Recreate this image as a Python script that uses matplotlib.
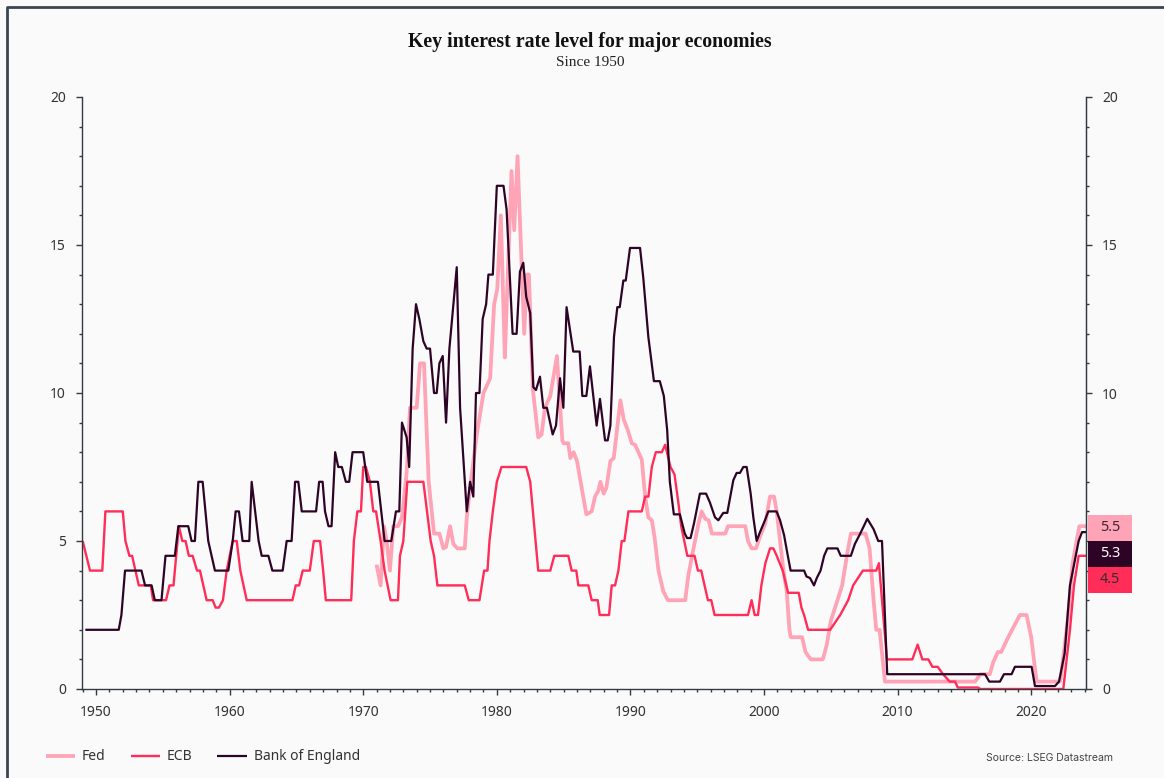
"""
Key interest rates of the Fed, ECB (Bundesbank before 1999) and Bank of England
since 1950, drawn as step-ish lines with end-value tags on the right.
"""
import matplotlib
matplotlib.use("Agg")
import matplotlib.pyplot as plt
from matplotlib.lines import Line2D
from matplotlib.patches import Rectangle
from matplotlib.ticker import MultipleLocator, FuncFormatter
import matplotlib.transforms as mtransforms

BG = "#fafafa"
INK = "#333a40"
COLORS = {"Fed": "#ffa3b6", "ECB": "#ff2d57", "Bank of England": "#2d0426"}
WIDTHS = {"Fed": 2.7, "ECB": 1.7, "Bank of England": 1.6}

# --- Fed funds target (from 1971) ---
fed_years = [1971.0, 1971.3, 1971.55, 1971.75, 1972.0, 1972.25, 1972.6, 1972.9, 1973.25, 1973.5,
             1974.0, 1974.25, 1974.55, 1974.9, 1975.3, 1975.7, 1976.0, 1976.2, 1976.5, 1976.75,
             1977.05, 1977.6, 1977.75, 1978.0, 1978.5, 1979.0, 1979.5, 1979.8, 1980.03, 1980.3,
             1980.6, 1980.7, 1981.1, 1981.3, 1981.55, 1982.05, 1982.25, 1982.4, 1982.7, 1983.1,
             1983.35, 1983.6, 1984.0, 1984.5, 1984.9, 1985.0, 1985.35, 1985.5, 1985.75, 1986.0,
             1986.35, 1986.7, 1987.1, 1987.35, 1987.6, 1987.75, 1988.0, 1988.2, 1988.5, 1988.75,
             1989.25, 1989.5, 1989.8, 1990.1, 1990.35, 1990.85, 1991.1, 1991.34, 1991.6, 1991.8,
             1992.1, 1992.46, 1992.8, 1994.1, 1994.34, 1994.7, 1995.1, 1995.33, 1995.6, 1995.85,
             1996.1, 1997.1, 1997.3, 1998.6, 1998.8, 1999.07, 1999.4, 1999.7, 2000.1, 2000.45,
             2000.75, 2000.95, 2001.2, 2001.45, 2001.7, 2001.9, 2002.0, 2002.85, 2003.1, 2003.5,
             2004.4, 2004.7, 2005.0, 2005.5, 2005.85, 2006.2, 2006.5, 2007.6, 2007.9, 2008.2,
             2008.4, 2008.65, 2009.05, 2015.8, 2016.2, 2016.9, 2017.15, 2017.5, 2017.75, 2018.3,
             2018.8, 2019.15, 2019.65, 2020.0, 2020.4, 2022.15, 2022.25, 2022.75, 2023.1, 2023.4,
             2023.6, 2024.1]
fed_rates = [4.2, 3.5, 5.5, 5.0, 4.0, 5.5, 5.5, 5.8, 7.3, 9.5,
             9.5, 11.0, 11.0, 7.0, 5.25, 5.25, 4.75, 4.8, 5.5, 4.9,
             4.75, 4.75, 5.8, 6.8, 8.6, 10.0, 10.5, 13.0, 13.5, 16.0,
             11.2, 12.5, 17.5, 15.5, 18.0, 12.0, 14.0, 14.0, 10.1, 8.5,
             8.6, 9.5, 9.9, 11.25, 8.4, 8.3, 8.3, 7.8, 8.0, 7.7,
             6.8, 5.9, 6.0, 6.5, 6.7, 7.0, 6.6, 6.8, 7.7, 7.8,
             9.75, 9.1, 8.75, 8.3, 8.25, 7.75, 6.5, 5.8, 5.7, 5.15,
             4.0, 3.3, 3.0, 3.0, 3.85, 4.7, 5.6, 6.0, 5.75, 5.7,
             5.25, 5.25, 5.5, 5.5, 5.0, 4.75, 4.75, 5.15, 5.6, 6.5,
             6.5, 6.0, 5.0, 4.0, 3.3, 2.0, 1.75, 1.75, 1.25, 1.0,
             1.0, 1.5, 2.3, 3.0, 3.5, 4.5, 5.25, 5.25, 4.75, 3.0,
             2.0, 2.0, 0.25, 0.25, 0.5, 0.5, 0.9, 1.25, 1.25, 1.77,
             2.2, 2.5, 2.5, 1.75, 0.25, 0.25, 0.5, 2.4, 4.25, 5.0,
             5.5, 5.5]

# --- ECB main refi (Bundesbank discount rate before 1999) ---
ecb_years = [1949.0, 1949.55, 1950.47, 1950.7, 1952.0, 1952.2, 1952.5, 1952.7, 1953.2, 1954.1,
             1954.27, 1955.24, 1955.5, 1955.8, 1956.2, 1956.46, 1956.7, 1956.95, 1957.23, 1957.56,
             1957.78, 1958.28, 1958.73, 1958.95, 1959.2, 1959.5, 1959.78, 1960.23, 1960.53, 1960.8,
             1961.28, 1964.7, 1964.95, 1965.2, 1965.47, 1966.0, 1966.3, 1966.77, 1967.0, 1967.2,
             1969.1, 1969.3, 1969.56, 1969.83, 1970.0, 1970.2, 1970.5, 1970.75, 1970.96, 1971.3,
             1971.6, 1972.05, 1972.6, 1972.75, 1973.0, 1973.3, 1974.5, 1975.05, 1975.3, 1975.55,
             1977.6, 1977.9, 1978.7, 1979.05, 1979.3, 1979.45, 1979.7, 1980.0, 1980.35, 1982.2,
             1982.5, 1983.1, 1984.0, 1984.3, 1985.35, 1985.6, 1985.95, 1986.1, 1986.85, 1987.1,
             1987.55, 1987.7, 1988.4, 1988.6, 1988.85, 1989.1, 1989.35, 1989.55, 1989.85, 1990.85,
             1991.1, 1991.35, 1991.6, 1991.9, 1992.35, 1992.6, 1993.0, 1993.3, 1993.6, 1993.8,
             1994.26, 1994.8, 1995.05, 1995.3, 1995.8, 1996.05, 1996.3, 1998.8, 1999.07, 1999.3,
             1999.55, 1999.8, 2000.1, 2000.45, 2000.7, 2000.95, 2001.4, 2001.8, 2002.6, 2002.8,
             2003.0, 2003.3, 2004.95, 2005.7, 2006.3, 2006.67, 2007.4, 2008.4, 2008.6, 2009.2,
             2011.1, 2011.5, 2011.85, 2012.3, 2012.6, 2013.0, 2013.4, 2013.9, 2014.3, 2014.5,
             2016.0, 2016.2, 2022.4, 2022.9, 2023.2, 2023.55, 2024.1]
ecb_rates = [5.0, 4.0, 4.0, 6.0, 6.0, 5.0, 4.5, 4.5, 3.5, 3.5,
             3.0, 3.0, 3.5, 3.5, 5.5, 5.0, 5.0, 4.5, 4.5, 4.0,
             4.0, 3.0, 3.0, 2.75, 2.75, 3.0, 4.0, 5.0, 5.0, 4.0,
             3.0, 3.0, 3.5, 3.5, 4.0, 4.0, 5.0, 5.0, 4.0, 3.0,
             3.0, 5.0, 6.0, 6.0, 7.5, 7.5, 7.0, 6.0, 6.0, 5.0,
             4.0, 3.0, 3.0, 4.5, 5.0, 7.0, 7.0, 5.0, 4.5, 3.5,
             3.5, 3.0, 3.0, 4.0, 4.0, 5.0, 6.0, 7.0, 7.5, 7.5,
             7.0, 4.0, 4.0, 4.5, 4.5, 4.0, 4.0, 3.5, 3.5, 3.0,
             3.0, 2.5, 2.5, 3.5, 3.5, 4.0, 5.0, 5.0, 6.0, 6.0,
             6.5, 6.5, 7.5, 8.0, 8.0, 8.25, 7.5, 7.25, 6.25, 5.5,
             4.5, 4.5, 4.0, 4.0, 3.0, 3.0, 2.5, 2.5, 3.0, 2.5,
             2.5, 3.5, 4.25, 4.75, 4.75, 4.5, 4.0, 3.25, 3.25, 2.75,
             2.5, 2.0, 2.0, 2.5, 3.0, 3.5, 4.0, 4.0, 4.25, 1.0,
             1.0, 1.5, 1.0, 1.0, 0.75, 0.75, 0.5, 0.25, 0.25, 0.05,
             0.05, 0.0, 0.0, 2.0, 3.5, 4.5, 4.5]

# --- Bank of England bank rate ---
boe_years = [1949.2, 1951.7, 1951.9, 1952.17, 1953.4, 1953.67, 1954.16, 1954.4, 1954.9, 1955.2,
             1955.9, 1956.16, 1956.9, 1957.15, 1957.4, 1957.66, 1957.98, 1958.4, 1958.9, 1959.9,
             1960.23, 1960.45, 1960.7, 1960.97, 1961.47, 1961.65, 1962.17, 1962.4, 1962.9, 1963.2,
             1963.97, 1964.27, 1964.64, 1964.9, 1965.14, 1965.4, 1966.47, 1966.7, 1966.96, 1967.14,
             1967.4, 1967.63, 1967.9, 1968.13, 1968.4, 1968.7, 1968.95, 1969.2, 1970.0, 1970.3,
             1971.1, 1971.6, 1972.1, 1972.45, 1972.7, 1972.9, 1973.25, 1973.44, 1973.7, 1973.95,
             1974.2, 1974.5, 1974.75, 1975.0, 1975.3, 1975.5, 1975.7, 1975.95, 1976.2, 1976.45,
             1977.0, 1977.25, 1977.75, 1978.0, 1978.24, 1978.44, 1978.7, 1978.94, 1979.2, 1979.37,
             1979.7, 1980.0, 1980.5, 1980.73, 1981.18, 1981.48, 1981.73, 1981.98, 1982.2, 1982.5,
             1982.73, 1982.93, 1983.23, 1983.48, 1983.75, 1984.18, 1984.43, 1984.73, 1984.98, 1985.22,
             1985.72, 1986.2, 1986.4, 1986.7, 1986.97, 1987.47, 1987.72, 1988.1, 1988.3, 1988.5,
             1988.77, 1989.02, 1989.2, 1989.47, 1989.65, 1989.97, 1990.72, 1990.96, 1991.34, 1991.76,
             1992.2, 1992.5, 1992.75, 1992.95, 1993.25, 1993.7, 1994.07, 1994.24, 1994.5, 1994.76,
             1995.2, 1995.66, 1995.95, 1996.33, 1996.58, 1996.95, 1997.25, 1997.7, 1997.95, 1998.2,
             1998.45, 1998.7, 1999.0, 1999.2, 1999.45, 1999.7, 2000.07, 2000.32, 2000.94, 2001.2,
             2001.5, 2001.74, 2001.99, 2003.0, 2003.18, 2003.44, 2003.74, 2003.95, 2004.23, 2004.5,
             2004.74, 2005.5, 2005.74, 2006.5, 2006.8, 2007.2, 2007.73, 2008.2, 2008.55, 2008.83,
             2009.22, 2016.54, 2016.86, 2017.66, 2017.96, 2018.53, 2018.78, 2020.03, 2020.28, 2021.78,
             2022.08, 2022.5, 2022.9, 2023.2, 2023.55, 2023.8, 2024.1]
boe_rates = [2.0, 2.0, 2.5, 4.0, 4.0, 3.5, 3.5, 3.0, 3.0, 4.5,
             4.5, 5.5, 5.5, 5.0, 5.0, 7.0, 7.0, 5.0, 4.0, 4.0,
             5.0, 6.0, 6.0, 5.0, 5.0, 7.0, 5.0, 4.5, 4.5, 4.0,
             4.0, 5.0, 5.0, 7.0, 7.0, 6.0, 6.0, 7.0, 7.0, 6.0,
             5.5, 5.5, 8.0, 7.5, 7.5, 7.0, 7.0, 8.0, 8.0, 7.0,
             7.0, 5.0, 5.0, 6.0, 6.0, 9.0, 8.5, 7.5, 11.5, 13.0,
             12.5, 11.75, 11.5, 11.5, 10.0, 10.0, 11.0, 11.25, 9.0, 11.5,
             14.25, 9.5, 6.0, 7.0, 6.5, 10.0, 10.0, 12.5, 13.0, 14.0,
             14.0, 17.0, 17.0, 16.2, 12.0, 12.0, 14.1, 14.4, 13.25, 12.7,
             10.2, 10.1, 10.55, 9.5, 9.5, 8.6, 8.9, 10.5, 9.5, 12.9,
             11.4, 11.4, 9.9, 9.9, 10.9, 8.9, 9.8, 8.4, 8.4, 8.9,
             11.9, 12.9, 12.9, 13.8, 13.8, 14.9, 14.9, 13.9, 11.9, 10.4,
             10.4, 9.9, 8.75, 7.0, 5.9, 5.9, 5.25, 5.1, 5.1, 5.6,
             6.6, 6.6, 6.3, 5.8, 5.7, 5.95, 5.95, 7.05, 7.3, 7.3,
             7.5, 7.5, 6.6, 5.8, 5.0, 5.3, 5.7, 6.0, 6.0, 5.7,
             5.2, 4.6, 4.0, 4.0, 3.8, 3.75, 3.5, 3.75, 4.0, 4.5,
             4.75, 4.75, 4.5, 4.5, 4.9, 5.25, 5.75, 5.4, 5.0, 5.0,
             0.5, 0.5, 0.25, 0.25, 0.5, 0.5, 0.75, 0.75, 0.1, 0.1,
             0.25, 1.2, 3.5, 4.2, 5.0, 5.3, 5.3]

SERIES = [("Fed", fed_years, fed_rates),
          ("ECB", ecb_years, ecb_rates),
          ("Bank of England", boe_years, boe_rates)]
TAG_TEXT = {"Fed": "#3a2a33", "ECB": "#3a2a33", "Bank of England": "white"}

plt.rcParams["font.family"] = ["Noto Sans", "DejaVu Sans"]

fig = plt.figure(figsize=(11.64, 7.78), dpi=100, facecolor=BG)
W, H = 1164, 778
ax = fig.add_axes([82 / W, 1 - 689 / H, (1086 - 82) / W, (689 - 97) / H], facecolor=BG)

for name, xs, ys in SERIES:
    ax.plot(xs, ys, color=COLORS[name], lw=WIDTHS[name], label=name,
            solid_joinstyle="round", solid_capstyle="butt")

ax.set_xlim(1948.95, 2024.1)
ax.set_ylim(0, 20)
ax.xaxis.set_major_locator(MultipleLocator(10))
ax.xaxis.set_minor_locator(MultipleLocator(1))
ax.yaxis.set_major_locator(MultipleLocator(5))
ax.yaxis.set_minor_locator(MultipleLocator(1))
ax.spines["top"].set_visible(False)
for s in ("left", "bottom", "right"):
    ax.spines[s].set_color(INK)
    ax.spines[s].set_linewidth(1.0)

# right-hand scale; the 5 sits under the value tags, so leave it blank
ax2 = ax.twinx()
ax2.set_ylim(0, 20)
ax2.yaxis.set_major_locator(MultipleLocator(5))
ax2.yaxis.set_minor_locator(MultipleLocator(1))
ax2.yaxis.set_major_formatter(FuncFormatter(lambda v, _: "" if v == 5 else f"{v:g}"))
for s in ("top", "left", "bottom"):
    ax2.spines[s].set_visible(False)
ax2.spines["right"].set_color(INK)

for a in (ax, ax2):
    a.tick_params(which="major", length=4.5, width=1, color=INK, labelcolor="#333333",
                  labelsize=10, pad=7)
    a.tick_params(which="minor", length=2.5, width=1, color=INK)

# end-value tags stacked at the right edge
trans = mtransforms.blended_transform_factory(fig.transFigure, ax.transData)
box_h = 26 / 29.6
x0, bw = 1088 / W, 44 / W
ends = sorted(((ys[-1], name) for name, xs, ys in SERIES), reverse=True)
cy = ends[0][0] - 0.06
for val, name in ends:
    fig.add_artist(Rectangle((x0, cy - box_h / 2), bw, box_h, transform=trans,
                             facecolor=COLORS[name], edgecolor="none", zorder=5))
    fig.text(x0 + bw / 2, cy, f"{val:.1f}", transform=trans, ha="center", va="center",
             fontsize=10.5, color=TAG_TEXT[name], zorder=6)
    cy -= box_h

fig.text(590 / W, 1 - 42 / H, "Key interest rate level for major economies",
         ha="center", va="center", fontsize=14.3, fontweight="bold",
         family="Liberation Serif", color="#111111")
fig.text(590 / W, 1 - 62 / H, "Since 1950", ha="center", va="center", fontsize=11,
         family="Liberation Serif", color="#222222")

fig.legend(loc="center left", bbox_to_anchor=(46 / W, 1 - 757 / H), ncol=3, frameon=False,
           fontsize=10, handlelength=2.1, handletextpad=0.5, columnspacing=1.8,
           borderaxespad=0, borderpad=0, labelcolor="#333333")
fig.text(1113 / W, 1 - 758 / H, "Source: LSEG Datastream", ha="right", va="center",
         fontsize=7.5, family="Inter", color="#444444")

# frame line along the top and left edges
fig.add_artist(Line2D([7 / W, 7 / W, 1], [0, 1 - 7 / H, 1 - 7 / H],
                      transform=fig.transFigure, color="#3c4650", lw=2))

fig.savefig("out.png", dpi=100, facecolor=BG)
